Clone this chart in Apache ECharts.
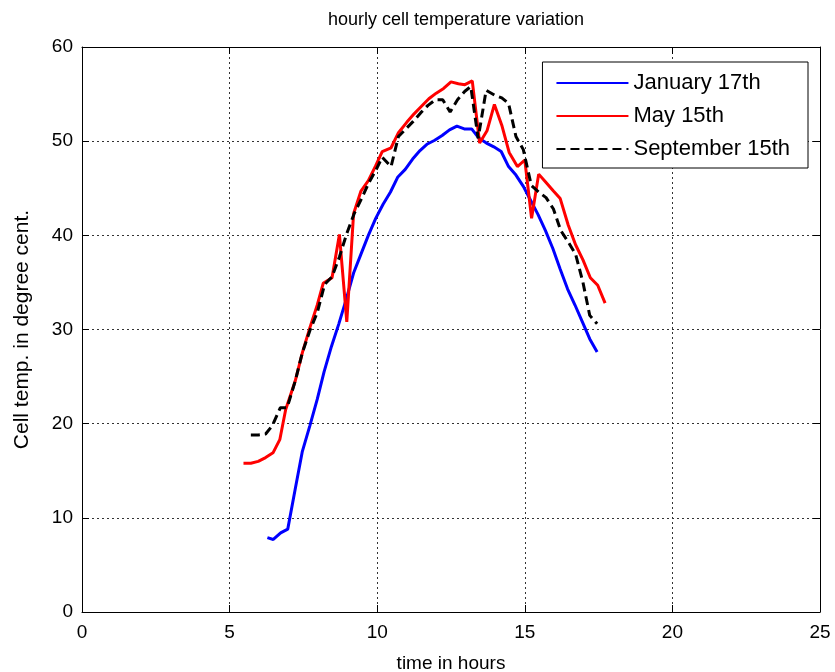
<!DOCTYPE html>
<html>
<head>
<meta charset="utf-8">
<script src="https://cdn.jsdelivr.net/npm/echarts@6/dist/echarts.min.js"></script>
<style>html,body{margin:0;padding:0;background:#fff}#c{width:835px;height:672px}</style>
</head>
<body>
<div id="c"></div>
<script>
var seriesNames = ['January 17th', 'May 15th', 'September 15th'];
var xTicks = [0, 5, 10, 15, 20, 25];
var yTicks = [0, 10, 20, 30, 40, 50, 60];

var january = [[6.28,7.9],[6.48,7.7],[6.73,8.4],[6.97,8.8],[7.22,13.0],[7.46,17.0],[7.72,19.8],[7.97,22.6],[8.2,25.5],[8.45,28.2],[8.7,30.6],[8.95,33.2],[9.2,36.0],[9.45,38.0],[9.7,40.0],[9.95,41.8],[10.2,43.3],[10.45,44.6],[10.7,46.2],[10.95,47.0],[11.2,48.1],[11.45,49.0],[11.7,49.7],[11.95,50.1],[12.2,50.6],[12.45,51.2],[12.7,51.6],[12.95,51.3],[13.2,51.3],[13.45,50.3],[13.7,49.8],[13.95,49.4],[14.2,48.9],[14.45,47.3],[14.7,46.4],[14.95,45.2],[15.2,43.7],[15.45,42.2],[15.7,40.5],[15.95,38.6],[16.2,36.4],[16.45,34.3],[16.7,32.6],[16.95,30.8],[17.2,29.0],[17.45,27.6]];

var may = [[5.47,15.8],[5.72,15.8],[5.97,16.0],[6.22,16.4],[6.47,16.9],[6.7,18.3],[6.9,21.5],[7.22,24.5],[7.47,27.6],[7.72,30.2],[7.97,32.6],[8.17,34.9],[8.47,35.5],[8.72,40.1],[8.97,30.8],[9.2,42.3],[9.45,44.7],[9.7,45.8],[9.95,47.4],[10.17,48.9],[10.47,49.3],[10.72,50.9],[11.0,52.0],[11.25,52.9],[11.5,53.7],[11.75,54.5],[12.0,55.1],[12.25,55.6],[12.5,56.3],[12.75,56.1],[12.97,56.0],[13.22,56.4],[13.47,49.8],[13.72,51.1],[13.97,53.9],[14.22,51.7],[14.47,48.8],[14.75,47.3],[15.0,48.0],[15.23,41.8],[15.47,46.5],[15.72,45.6],[15.97,44.7],[16.2,43.9],[16.47,41.1],[16.72,39.0],[16.97,37.4],[17.22,35.5],[17.47,34.7],[17.72,32.8]];

var september = [[5.72,18.8],[5.97,18.8],[6.22,18.9],[6.45,19.8],[6.72,21.7],[6.95,21.7],[7.22,24.5],[7.47,27.6],[7.72,29.9],[7.97,31.8],[8.22,34.8],[8.47,35.6],[8.72,37.7],[8.97,40.2],[9.22,42.3],[9.47,43.9],[9.72,45.6],[9.97,47.0],[10.17,48.3],[10.47,47.3],[10.72,50.5],[10.97,51.3],[11.22,52.1],[11.47,53.0],[11.72,53.8],[11.97,54.4],[12.22,54.4],[12.47,53.1],[12.72,54.4],[12.97,55.3],[13.17,55.8],[13.42,50.3],[13.69,55.4],[13.97,54.9],[14.22,54.6],[14.45,54.0],[14.7,50.5],[14.95,49.1],[15.22,45.3],[15.47,44.6],[15.72,44.0],[15.97,42.8],[16.22,40.5],[16.47,39.3],[16.72,38.0],[16.97,35.0],[17.2,31.5],[17.45,30.6]];

var font = 'Liberation Sans, Arial, sans-serif';
var chart = echarts.init(document.getElementById('c'), null, {renderer: 'canvas'});

var gridLine = {show: true, lineStyle: {color: '#333', type: [2, 3], width: 1}};
function xAx(pos, labels) {
  return {
    type: 'value', position: pos, min: xTicks[0], max: xTicks[xTicks.length - 1], interval: 5,
    axisLine: {show: true, onZero: false, lineStyle: {color: '#000', width: 1}},
    axisTick: {show: true, inside: true, length: 7, lineStyle: {color: '#000'}},
    axisLabel: {show: labels, color: '#000', fontSize: 19, fontFamily: font, margin: 11},
    splitLine: labels ? gridLine : {show: false},
    name: labels ? 'time in hours' : '', nameLocation: 'middle', nameGap: 42,
    nameTextStyle: {color: '#000', fontSize: 19, fontFamily: font}
  };
}
function yAx(pos, labels) {
  return {
    type: 'value', position: pos, min: yTicks[0], max: yTicks[yTicks.length - 1], interval: 10,
    axisLine: {show: true, onZero: false, lineStyle: {color: '#000', width: 1}},
    axisTick: {show: true, inside: true, length: 7, lineStyle: {color: '#000'}},
    axisLabel: {show: labels, color: '#000', fontSize: 19, fontFamily: font, margin: 9},
    splitLine: labels ? gridLine : {show: false},
    name: labels ? 'Cell temp. in degree cent.' : '', nameLocation: 'middle', nameGap: 49,
    nameTextStyle: {color: '#000', fontSize: 21, fontFamily: font}
  };
}

chart.setOption({
  animation: false,
  backgroundColor: '#fff',
  title: {
    text: 'hourly cell temperature variation', left: 451, top: 6, textAlign: 'center',
    textStyle: {color: '#000', fontSize: 18, fontWeight: 'normal', fontFamily: font}
  },
  grid: {left: 82, right: 15, top: 47, bottom: 60, containLabel: false, outerBoundsMode: 'none'},
  xAxis: [xAx('bottom', true), xAx('top', false)],
  yAxis: [yAx('left', true), yAx('right', false)],
  legend: {
    orient: 'vertical', right: 27, top: 62,
    backgroundColor: '#fff', borderColor: '#000', borderWidth: 1,
    padding: [10, 18, 8, 13], itemWidth: 72, itemHeight: 14, itemGap: 11,
    itemStyle: {opacity: 0},
    textStyle: {color: '#000', fontSize: 22, fontFamily: font},
    data: seriesNames
  },
  series: [
    {name: seriesNames[0], type: 'line', data: january, showSymbol: false,
     lineStyle: {color: '#0000ff', width: 3}, itemStyle: {color: '#0000ff'}},
    {name: seriesNames[1], type: 'line', data: may, showSymbol: false,
     lineStyle: {color: '#ff0000', width: 3}, itemStyle: {color: '#ff0000'}},
    {name: seriesNames[2], type: 'line', data: september, showSymbol: false,
     lineStyle: {color: '#000000', width: 3, type: [9, 5]}, itemStyle: {color: '#000000'}}
  ]
});
</script>
</body>
</html>
